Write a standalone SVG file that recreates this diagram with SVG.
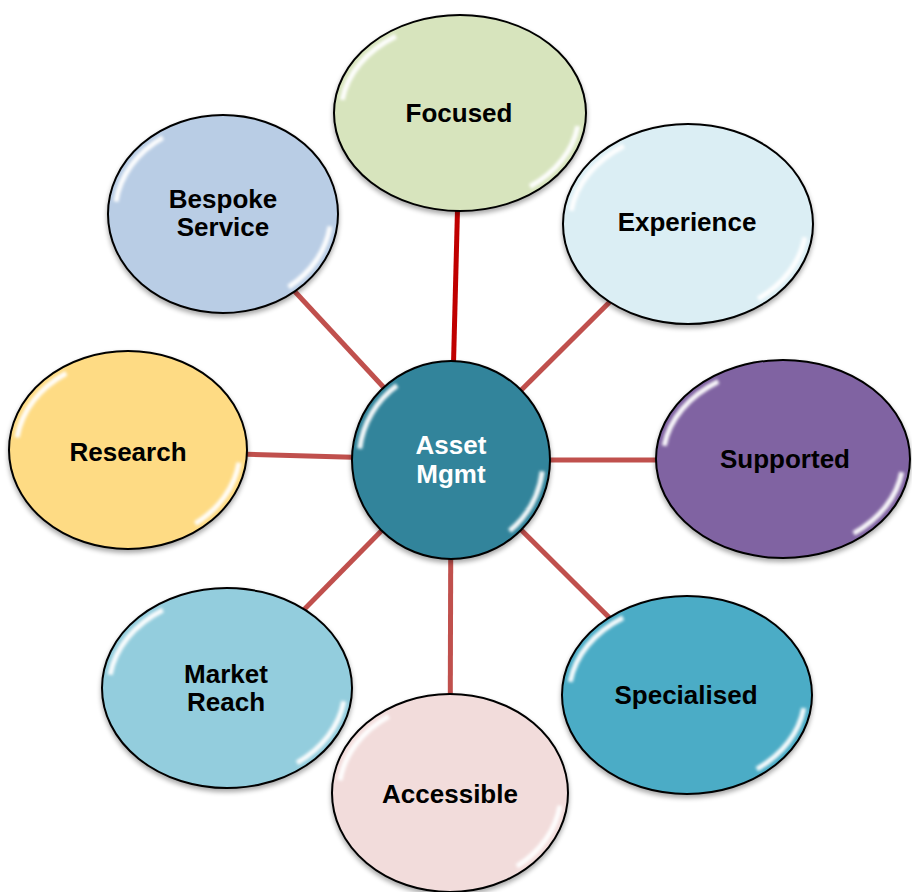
<svg xmlns="http://www.w3.org/2000/svg" width="912" height="892" viewBox="0 0 912 892">
  <style>
    .node { stroke: #000; stroke-width: 2; }
    .hl { fill: none; stroke: #fff; stroke-width: 5; stroke-opacity: 0.95; filter: url(#blur); }
    .lbl { font-family: "Liberation Sans", Arial, sans-serif; font-weight: bold; font-size: 26px; text-anchor: middle; fill: #000; }
    .lbl.w { fill: #fff; }
    .conn line { stroke: #c0504d; stroke-width: 5; }
  </style>
  <defs>
    <filter id="blur" x="-20%" y="-20%" width="140%" height="140%">
      <feGaussianBlur stdDeviation="1.5"/>
    </filter>
    <filter id="shadow" x="-10%" y="-10%" width="120%" height="125%">
      <feGaussianBlur in="SourceAlpha" stdDeviation="2.5"/>
      <feOffset dx="0" dy="3" result="b"/>
      <feComponentTransfer><feFuncA type="linear" slope="0.35"/></feComponentTransfer>
      <feMerge><feMergeNode/><feMergeNode in="SourceGraphic"/></feMerge>
    </filter>
  </defs>
  <rect width="912" height="892" fill="#fff"/>

  <g id="connectors" class="conn">
    <line x1="451" y1="460" x2="460" y2="113" style="stroke:#c00000"/>
    <line x1="451" y1="460" x2="688" y2="224"/>
    <line x1="451" y1="460" x2="783" y2="460"/>
    <line x1="451" y1="460" x2="687" y2="695"/>
    <line x1="451" y1="460" x2="450" y2="793"/>
    <line x1="451" y1="460" x2="227" y2="688"/>
    <line x1="451" y1="460" x2="128" y2="451"/>
    <line x1="451" y1="460" x2="223" y2="214"/>
  </g>

  <g id="focused">
    <ellipse class="node" cx="460" cy="113" rx="126" ry="98" fill="#d7e4bd" filter="url(#shadow)"/>
    <ellipse class="hl" cx="460" cy="113" rx="119" ry="91" pathLength="100" stroke-dasharray="0 2 12 38 13 35"/>
    <text class="lbl" x="459" y="122">Focused</text>
  </g>

  <g id="experience">
    <ellipse class="node" cx="688" cy="224" rx="125" ry="100" fill="#dbeef4" filter="url(#shadow)"/>
    <ellipse class="hl" cx="688" cy="224" rx="118" ry="93" pathLength="100" stroke-dasharray="0 2 12 38 13 35"/>
    <text class="lbl" x="687" y="231">Experience</text>
  </g>

  <g id="supported">
    <ellipse class="node" cx="783" cy="459" rx="127" ry="99" fill="#8064a2" filter="url(#shadow)"/>
    <ellipse class="hl" cx="783" cy="459" rx="120" ry="92" pathLength="100" stroke-dasharray="0 2 12 38 13 35"/>
    <text class="lbl" x="785" y="468">Supported</text>
  </g>

  <g id="specialised">
    <ellipse class="node" cx="687" cy="695" rx="125" ry="99" fill="#4bacc6" filter="url(#shadow)"/>
    <ellipse class="hl" cx="687" cy="695" rx="118" ry="92" pathLength="100" stroke-dasharray="0 2 12 38 13 35"/>
    <text class="lbl" x="686" y="704">Specialised</text>
  </g>

  <g id="accessible">
    <ellipse class="node" cx="450" cy="793" rx="118" ry="99" fill="#f2dcdb" filter="url(#shadow)"/>
    <ellipse class="hl" cx="450" cy="793" rx="111" ry="92" pathLength="100" stroke-dasharray="0 2 12 38 13 35"/>
    <text class="lbl" x="450" y="803">Accessible</text>
  </g>

  <g id="market-reach">
    <ellipse class="node" cx="227" cy="688" rx="125" ry="100" fill="#93cddd" filter="url(#shadow)"/>
    <ellipse class="hl" cx="227" cy="688" rx="118" ry="93" pathLength="100" stroke-dasharray="0 2 12 38 13 35"/>
    <text class="lbl" x="226" y="683">Market</text>
    <text class="lbl" x="226" y="711">Reach</text>
  </g>

  <g id="research">
    <ellipse class="node" cx="128" cy="450" rx="119" ry="99" fill="#fedb84" filter="url(#shadow)"/>
    <ellipse class="hl" cx="128" cy="450" rx="112" ry="92" pathLength="100" stroke-dasharray="0 2 12 38 13 35"/>
    <text class="lbl" x="128" y="461">Research</text>
  </g>

  <g id="bespoke-service">
    <ellipse class="node" cx="223" cy="214" rx="115" ry="99" fill="#b9cde5" filter="url(#shadow)"/>
    <ellipse class="hl" cx="223" cy="214" rx="108" ry="92" pathLength="100" stroke-dasharray="0 2 12 38 13 35"/>
    <text class="lbl" x="223" y="208">Bespoke</text>
    <text class="lbl" x="223" y="236">Service</text>
  </g>

  <g id="asset-mgmt">
    <circle class="node" cx="451" cy="460" r="99" fill="#31849b" filter="url(#shadow)"/>
    <circle class="hl" cx="451" cy="460" r="92" pathLength="100" stroke-dasharray="0 2 12 38 13 35"/>
    <text class="lbl w" x="451" y="454">Asset</text>
    <text class="lbl w" x="451" y="483">Mgmt</text>
  </g>
</svg>
